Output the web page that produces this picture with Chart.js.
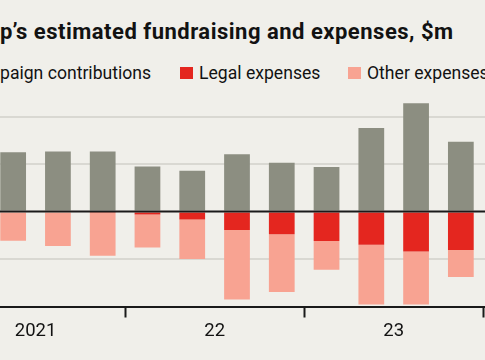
<!DOCTYPE html>
<html>
<head>
<meta charset="utf-8">
<script src="https://cdn.jsdelivr.net/npm/chart.js@4/dist/chart.umd.min.js"></script>
<style>
  html, body { margin: 0; padding: 0; }
  body { width: 485px; height: 360px; overflow: hidden; background: #f0efea; position: relative; font-family: Roboto, "Liberation Sans", sans-serif; color: #121212; }
  .title { position: absolute; left: 0; top: 19px; font-size: 22px; font-weight: 700; white-space: nowrap; line-height: 26px; letter-spacing: 0.5px; }
  .lg { position: absolute; top: 62px; font-size: 17.6px; white-space: nowrap; line-height: 22px; }
  .sw { position: absolute; top: 67px; width: 13px; height: 12px; }
  #wrap { position: absolute; left: -54px; top: 0; width: 582px; height: 360px; }
</style>
</head>
<body>
<div class="title">p’s estimated fundraising and expenses, $m</div>
<div class="lg" style="left:0">paign contributions</div>
<div class="sw" style="left:180px;background:#e4261f"></div>
<div class="lg" style="left:199px">Legal expenses</div>
<div class="sw" style="left:348px;background:#f8a392"></div>
<div class="lg" style="left:367px">Other expenses</div>
<div id="wrap"><canvas id="c"></canvas></div>
<script>
const quarters = ['2021 Q1','2021 Q2','2021 Q3','2021 Q4','2022 Q1','2022 Q2','2022 Q3','2022 Q4','2023 Q1','2023 Q2','2023 Q3','2023 Q4','2024 Q1'];
const yearLabels = {'2021 Q2': '2021', '2022 Q2': '22', '2023 Q2': '23'};
const contributions = [null, 12.5, 12.65, 12.65, 9.5, 8.6, 12.1, 10.3, 9.4, 17.6, 22.85, 14.75, null];
const legalExpenses = [null, 0, 0, -0.15, -0.6, -1.65, -3.85, -4.75, -6.2, -7.0, -8.4, -8.1, null];
const otherExpenses = [null, -6.15, -7.25, -9.15, -6.95, -8.35, -14.7, -12.2, -6.05, -12.6, -11.2, -5.7, null];
const gridValues = [20, 10, -10];

const zeroLine = {
  id: 'zeroLine',
  afterDatasetsDraw(chart) {
    const y = chart.scales.y.getPixelForValue(0);
    const ctx = chart.ctx;
    ctx.save();
    ctx.strokeStyle = '#1a1a1a';
    ctx.lineWidth = 2;
    ctx.beginPath();
    ctx.moveTo(chart.chartArea.left, y);
    ctx.lineTo(chart.chartArea.right, y);
    ctx.stroke();
    ctx.restore();
  }
};

new Chart(document.getElementById('c'), {
  type: 'bar',
  data: {
    labels: quarters,
    datasets: [
      { label: 'Campaign contributions', data: contributions, backgroundColor: '#8c8e81', stack: 's' },
      { label: 'Legal expenses', data: legalExpenses, backgroundColor: '#e4261f', stack: 's' },
      { label: 'Other expenses', data: otherExpenses, backgroundColor: '#f8a392', stack: 's' }
    ]
  },
  options: {
    responsive: true,
    maintainAspectRatio: false,
    animation: false,
    layout: { padding: { top: 93, left: 0, right: 0, bottom: 0 } },
    datasets: { bar: { barPercentage: 0.575, categoryPercentage: 1, borderWidth: 0 } },
    plugins: { legend: { display: false }, tooltip: { enabled: false }, title: { display: false } },
    scales: {
      x: {
        stacked: true,
        afterFit(s) { s.height = 53.5; },
        border: { display: true, color: '#1a1a1a', width: 2 },
        grid: {
          display: true, drawOnChartArea: false, offset: true, tickLength: 11, tickWidth: 2,
          tickColor: (c) => (c.index > 0 && c.index % 4 === 0) ? '#1a1a1a' : 'rgba(0,0,0,0)',
          color: 'rgba(0,0,0,0)'
        },
        ticks: {
          autoSkip: false, maxRotation: 0, minRotation: 0, padding: 3,
          labelOffset: 22.4,
          color: '#121212',
          font: { family: 'Roboto', size: 18.5 },
          callback(v, i) { return yearLabels[quarters[i]] || ''; }
        }
      },
      y: {
        stacked: true,
        min: -20, max: 25,
        afterFit(s) { s.width = 0; },
        border: { display: false },
        ticks: { display: false, stepSize: 10 },
        grid: {
          drawTicks: false,
          color: (c) => gridValues.includes(c.tick.value) ? '#d9d8d2' : 'rgba(0,0,0,0)',
          lineWidth: 2
        }
      }
    }
  },
  plugins: [zeroLine]
});
</script>
</body>
</html>
